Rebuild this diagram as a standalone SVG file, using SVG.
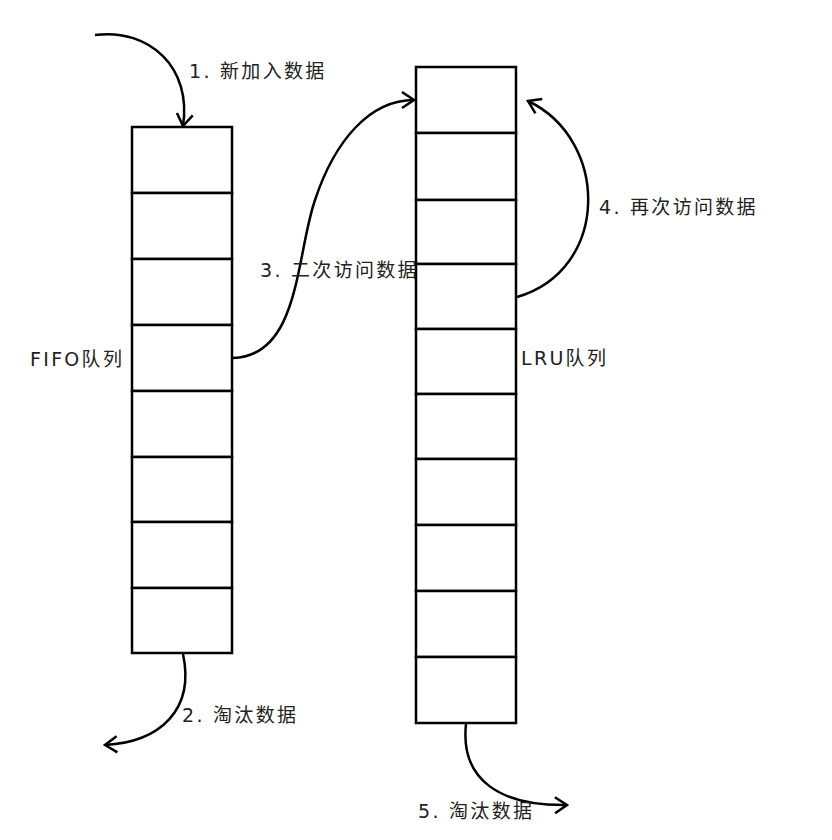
<svg xmlns="http://www.w3.org/2000/svg" width="832" height="840" viewBox="0 0 832 840">
<style>
.cell{fill:#fff;stroke:#000;stroke-width:2.5}
.conn{fill:none;stroke:#000;stroke-width:2.5;marker-end:url(#open)}
text{font-family:"DejaVu Sans","Noto Sans CJK SC",sans-serif;font-size:19px;letter-spacing:2.3px;fill:#222}
</style>
<defs>
<marker id="open" viewBox="0 0 20 20" refX="16" refY="10" markerWidth="20" markerHeight="20" markerUnits="userSpaceOnUse" orient="auto">
<path d="M4,2 L16,10 L4,18" fill="none" stroke="#000" stroke-width="2.5"/>
</marker>
</defs>
<rect width="832" height="840" fill="#fff"/>
<g id="fifo">
<rect class="cell" x="132" y="127" width="100" height="66"/>
<rect class="cell" x="132" y="193" width="100" height="66"/>
<rect class="cell" x="132" y="259" width="100" height="66"/>
<rect class="cell" x="132" y="325" width="100" height="66"/>
<rect class="cell" x="132" y="391" width="100" height="66"/>
<rect class="cell" x="132" y="457" width="100" height="65"/>
<rect class="cell" x="132" y="522" width="100" height="66"/>
<rect class="cell" x="132" y="588" width="100" height="65"/>
<text x="30" y="366">FIFO队列</text>
</g>
<g id="lru">
<rect class="cell" x="416" y="67" width="100" height="66"/>
<rect class="cell" x="416" y="133" width="100" height="67"/>
<rect class="cell" x="416" y="200" width="100" height="64"/>
<rect class="cell" x="416" y="264" width="100" height="65"/>
<rect class="cell" x="416" y="329" width="100" height="65"/>
<rect class="cell" x="416" y="394" width="100" height="65"/>
<rect class="cell" x="416" y="459" width="100" height="66"/>
<rect class="cell" x="416" y="525" width="100" height="66"/>
<rect class="cell" x="416" y="591" width="100" height="66"/>
<rect class="cell" x="416" y="657" width="100" height="66"/>
<text x="521" y="365">LRU队列</text>
</g>
<g id="connectors">
<path class="conn" d="M95,35 C150,28 192,68 183,126"/>
<path class="conn" d="M183,654 C195,710 160,742 105,745"/>
<path class="conn" d="M233,358 C300,356 296,255 315,200 C335,140 370,100 414,100"/>
<path class="conn" d="M517,297 C610,270 610,140 528,101"/>
<path class="conn" d="M466,724 C460,780 500,806 567,805"/>
</g>
<g id="labels">
<text x="189" y="78">1. 新加入数据</text>
<text x="182" y="722">2. 淘汰数据</text>
<text x="260" y="277">3. 二次访问数据</text>
<text x="599" y="214">4. 再次访问数据</text>
<text x="418" y="818">5. 淘汰数据</text>
</g>
</svg>
